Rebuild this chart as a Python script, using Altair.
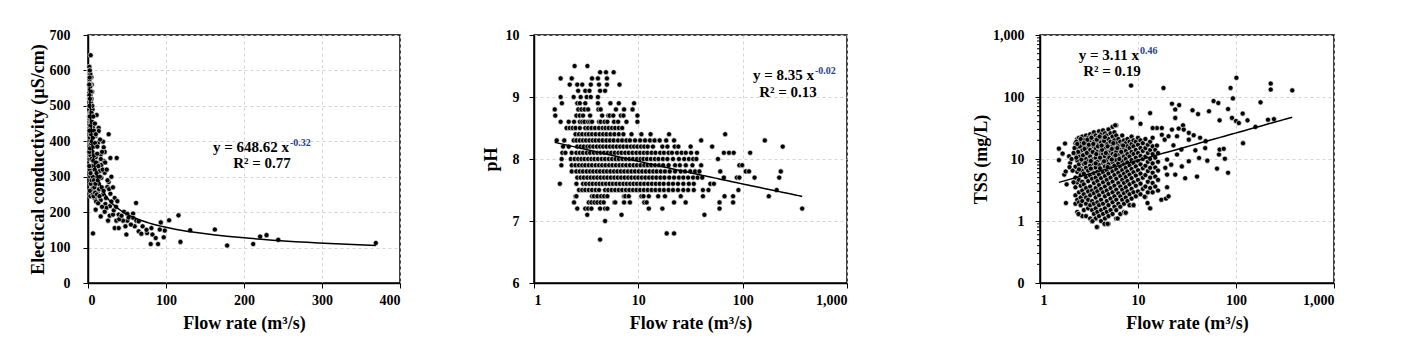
import altair as alt
import pandas as pd

FONT = "Liberation Serif"

# ---------------- Panel 1: Electrical conductivity vs flow ----------------
ec_points = [
    (3.4, 643), (2.1, 610), (4.3, 581), (1.7, 556), (3.4, 542), (2.1, 499), (3.4, 476), (1.8, 438),
    (11.1, 474), (4.3, 415), (6.4, 440), (9.4, 415), (13.7, 438), (13.7, 429), (26.5, 420), (6.4, 369),
    (12.8, 396), (19.3, 399), (20.1, 383), (21.4, 370), (16.3, 363), (9.8, 355), (12.0, 339), (17.1, 333),
    (20.5, 344), (21.4, 311), (28.7, 353), (36.8, 353), (7.7, 325), (15.0, 316), (4.3, 306), (10.7, 301),
    (17.1, 297), (26.5, 285), (24.8, 271), (13.7, 280), (6.8, 273), (12.8, 259), (19.3, 250), (28.7, 252),
    (3.0, 245), (8.6, 240), (16.3, 234), (22.2, 223), (34.2, 240), (37.6, 231), (28.2, 217), (23.5, 212),
    (9.8, 207), (16.3, 188), (21.4, 201), (27.8, 190), (32.1, 193), (39.4, 193), (46.2, 201), (50.5, 195),
    (57.8, 196), (61.6, 226), (57.8, 184), (62.0, 176), (65.0, 174), (50.5, 176), (44.9, 176), (36.4, 176),
    (25.7, 176), (34.2, 155), (39.4, 155), (49.2, 137), (59.9, 160), (65.0, 146), (68.4, 139), (75.7, 141),
    (81.3, 155), (82.6, 137), (86.8, 127), (80.4, 110), (89.8, 110), (93.3, 171), (97.1, 129), (98.4, 148),
    (92.0, 151), (104, 177), (116, 191), (118.5, 116), (131, 149), (162.6, 151), (178.4, 106), (211.8, 110),
    (220.7, 131), (228.9, 135), (243.9, 122), (369, 113), (6.4, 140),
    (1.6, 520), (1.7, 470), (1.8, 590), (1.9, 350), (2.0, 455), (2.0, 400), (2.1, 545), (2.2, 320),
    (2.2, 530), (2.3, 565), (2.4, 410), (2.4, 480), (2.5, 500), (2.6, 590), (2.6, 440), (2.7, 470),
    (2.8, 300), (2.8, 360), (2.9, 390), (3.0, 500), (3.0, 420), (3.1, 445), (3.2, 460), (3.3, 360),
    (3.4, 520), (3.5, 280), (3.6, 510), (3.7, 395), (3.8, 420), (3.9, 330), (4.0, 380), (4.0, 520),
    (4.1, 455), (4.2, 470), (4.4, 430), (4.5, 350), (4.6, 290), (4.8, 400), (4.9, 500), (5.0, 330),
    (5.2, 540), (5.3, 455), (5.5, 265), (5.6, 370), (5.8, 490), (6.0, 300), (6.2, 250), (6.3, 410),
    (1.6, 330), (1.7, 370), (1.9, 430), (2.3, 260), (2.5, 380), (3.2, 310), (3.6, 560), (4.7, 560),
    (1.6, 600), (1.7, 580), (1.9, 560), (2.0, 575), (2.2, 500), (2.4, 545), (2.5, 560), (2.7, 520),
    (2.9, 555), (3.0, 590), (3.1, 530), (3.3, 500), (3.5, 480), (3.7, 540), (3.9, 470), (4.1, 500),
    (4.4, 520), (4.6, 480), (5.0, 470), (5.4, 500),
    (1.6, 560), (1.65, 610), (1.75, 530), (1.85, 500), (1.95, 600), (2.05, 520), (2.15, 580),
    (2.25, 470), (2.35, 600), (2.45, 520),
    (6.7, 345), (6.8, 470), (7.1, 385), (7.2, 245), (7.5, 430), (7.6, 290), (8.0, 360), (8.2, 270),
    (8.5, 320), (8.8, 450), (9.0, 395), (9.2, 255), (9.6, 280), (10.0, 420), (10.2, 340), (10.5, 230),
    (11.0, 310), (11.5, 250), (11.8, 365), (12.0, 385), (12.5, 290), (13.0, 225), (13.3, 330), (14.2, 265),
    (14.8, 245), (15.2, 300), (15.5, 405), (16.4, 350), (17.6, 270), (18.0, 215), (18.0, 370), (18.8, 320),
    (20.0, 260), (22.0, 340), (23.0, 240), (24.0, 320), (25.0, 290), (27.0, 265), (30.0, 230), (30.0, 300),
    (32.0, 270), (33.0, 205), (36.0, 215), (40.0, 180), (43.0, 190), (48.0, 160), (52.0, 185), (55.0, 165),
    (70.0, 160), (75.0, 150),
]
ec_x_ticks = [0, 100, 200, 300, 400]
ec_y_ticks = [0, 100, 200, 300, 400, 500, 600, 700]

# ---------------- Panel 2: pH vs flow (pH recorded in 0.1 steps) ----------------
ph_levels = [9.5, 9.4, 9.3, 9.2, 9.1, 9.0, 8.9, 8.8, 8.7, 8.6, 8.5, 8.4, 8.3, 8.2, 8.1, 8.0,
             7.9, 7.8, 7.7, 7.6, 7.5, 7.4, 7.3, 7.2, 7.1, 7.0, 6.8, 6.7]
ph_row_flows = [
    [2.45, 3.25],
    [4.3, 4.9, 5.8],
    [1.8, 2.3, 3.6, 4.1, 5.0],
    [2.2, 2.6, 2.9, 3.5, 4.2, 5.0, 6.6],
    [2.65, 3.1, 3.4, 4.3, 4.8],
    [1.8, 2.4, 2.8, 3.2, 3.5, 4.1],
    [1.85, 2.6, 2.75, 3.1, 4.1, 5.4, 6.5, 9.1],
    [1.58, 2.66, 2.85, 3.05, 3.3, 4.15, 4.35, 6.1, 7.3, 8.8],
    [1.6, 2.55, 2.75, 2.95, 3.45, 4.5, 5.15, 5.3, 5.75, 6.8, 7.2, 9.8],
    [1.8, 2.15, 2.42, 2.75, 2.9, 3.05, 3.3, 3.45, 3.6, 4.2, 4.35, 4.75, 5.05, 5.85, 6.4, 7.7, 9.8],
    [2.05, 2.2, 2.35, 2.5, 2.75, 3.1, 3.3, 3.55, 3.85, 4.2, 4.55, 4.85, 5.2, 5.6, 6.0, 6.5, 7.0],
    [2.5, 2.7, 2.9, 3.15, 3.35, 3.6, 3.9, 4.25, 4.6, 4.95, 5.4, 5.9, 6.5, 7.2, 8.6, 10.7, 13.1, 19.7, 68],
    [1.65, 1.95, 2.4, 2.55, 2.75, 2.95, 3.15, 3.4, 3.65, 3.9, 4.2, 4.55, 4.95, 5.35, 5.8, 6.4, 7.0, 7.7,
     8.3, 9.3, 10.4, 11.6, 12.9, 14.3, 16.0, 18.5, 22.0, 40, 163],
    [1.9, 2.15, 2.6, 2.8, 3.0, 3.25, 3.45, 3.7, 4.0, 4.3, 4.6, 4.95, 5.35, 5.75, 6.2, 6.7, 7.2, 7.8,
     8.5, 9.1, 9.8, 10.6, 11.4, 12.3, 13.8, 17, 19, 22.3, 24.2, 31.7, 51, 242],
    [1.87, 2.0, 2.3, 2.55, 2.75, 2.95, 3.2, 3.45, 3.75, 4.05, 4.35, 4.7, 5.1, 5.5, 5.95, 6.45, 6.9, 7.5,
     8.1, 8.8, 9.6, 10.4, 11.3, 12.2, 13.4, 14.6, 16.2, 17.6, 19.5, 21.0, 23.5, 26.0, 28.5, 32.0, 36.5,
     66, 74, 82, 118],
    [1.84, 2.25, 2.45, 2.65, 2.85, 3.05, 3.3, 3.55, 3.8, 4.1, 4.45, 4.8, 5.2, 5.6, 6.05, 6.5, 7.05, 7.6,
     8.2, 8.9, 9.7, 10.5, 11.2, 12.1, 13.2, 14.4, 15.6, 17.2, 19.0, 21.5, 24.5, 27.5, 30.5, 33.5, 36.0, 58],
    [1.83, 2.3, 2.5, 2.7, 2.9, 3.1, 3.35, 3.6, 3.9, 4.2, 4.5, 4.85, 5.25, 5.65, 6.1, 6.6, 7.1, 7.65,
     8.3, 9.0, 9.7, 10.5, 11.4, 12.3, 13.3, 14.5, 15.8, 17.3, 19.5, 22.5, 25.0, 28.5, 33.0, 40, 93, 99],
    [2.3, 2.55, 2.75, 2.95, 3.2, 3.45, 3.7, 4.0, 4.3, 4.65, 5.0, 5.4, 5.85, 6.3, 6.8, 7.35, 7.95, 8.6,
     9.3, 10.1, 10.9, 11.8, 12.8, 13.9, 15.0, 16.4, 18.0, 20.0, 22.5, 25.5, 28.0, 31.5, 35.0, 38.5,
     61, 107, 115, 232],
    [2.6, 2.8, 3.0, 3.25, 3.5, 3.75, 4.05, 4.35, 4.7, 5.05, 5.45, 5.9, 6.35, 6.85, 7.4, 8.0, 8.6, 9.3,
     10.0, 10.8, 11.7, 12.7, 13.7, 14.9, 16.3, 17.8, 19.8, 22.0, 24.5, 27.0, 30.0, 33.5, 37.0, 41.0,
     66, 88, 93, 130, 224],
    [1.77, 2.55, 2.95, 3.15, 3.4, 3.65, 3.95, 4.25, 4.55, 4.9, 5.3, 5.7, 6.15, 6.65, 7.2, 7.75, 8.35,
     9.0, 9.7, 10.5, 11.4, 12.4, 13.5, 14.7, 16.0, 17.5, 19.5, 21.5, 24.0, 27.0, 30.5, 34.0, 49, 53],
    [2.7, 2.9, 3.1, 3.35, 3.6, 3.9, 4.2, 4.8, 5.15, 5.55, 6.0, 6.5, 7.0, 7.6, 8.2, 8.9, 9.6, 10.4,
     11.3, 12.3, 13.4, 14.6, 16.0, 17.6, 19.5, 21.5, 24.0, 27.0, 30.0, 34.0, 41.6, 47, 91, 212],
    [2.5, 2.55, 3.6, 3.75, 4.05, 4.4, 4.7, 5.05, 7.3, 7.5, 8.1, 10.7, 11.2, 12.6, 15.5, 18.0, 25.5,
     41.6, 67, 81, 178],
    [2.42, 3.35, 3.55, 3.8, 4.05, 4.35, 4.65, 5.9, 6.0, 7.3, 8.3, 11.4, 12.0, 22.0, 28.4, 60, 81],
    [2.6, 3.1, 3.3, 3.55, 4.3, 4.8, 5.05, 12.6, 17.0, 60, 372],
    [3.24, 6.9, 43],
    [4.8],
    [18.7, 22],
    [4.3],
]
log_ticks = [1, 10, 100, 1000]
ph_y_ticks = [6, 7, 8, 9, 10]

# ---------------- Panel 3: TSS vs flow ----------------
tss_col_flow = [2.3, 2.4, 2.5, 2.6, 2.7, 2.8, 2.95, 3.1, 3.25, 3.4, 3.55, 3.7, 3.85, 4.0, 4.2, 4.4,
                4.6, 4.8, 5.0, 5.25, 5.5, 5.75, 6.0, 6.3, 6.6, 6.9, 7.2, 7.5, 7.8, 8.2, 8.6, 9.0,
                9.5, 10.0, 10.6, 11.2, 11.9, 12.6, 13.3, 14.1, 15.0, 16.0]
tss_col_values = [
    [1.9, 2.6, 3.5, 5.0, 7.5, 12, 18],
    [1.4, 2.2, 4.2, 6.2, 9.5, 15, 21],
    [1.3, 2.0, 2.9, 4.6, 8.2, 11, 17, 22],
    [1.8, 2.4, 3.7, 5.5, 7.0, 13, 19],
    [1.2, 2.1, 3.1, 4.3, 6.4, 9.0, 14, 23],
    [1.5, 2.7, 3.9, 5.8, 8.3, 11.5, 16, 20],
    [1.2, 1.9, 2.4, 3.4, 5.1, 7.2, 10, 13.5, 18, 24],
    [1.6, 2.2, 3.0, 4.4, 6.5, 9.2, 12, 15.5, 22],
    [1.1, 1.8, 2.6, 3.6, 5.4, 7.8, 11, 14, 19, 25],
    [0.99, 1.5, 2.1, 3.1, 4.8, 6.9, 9.8, 17, 23],
    [1.3, 1.9, 2.8, 4.1, 5.9, 8.5, 12.5, 16, 21, 27],
    [1.1, 1.6, 2.4, 3.4, 5.0, 7.3, 10.5, 14.5, 19, 24],
    [0.8, 1.4, 2.0, 3.0, 4.4, 6.2, 9.0, 13, 17.5, 22],
    [1.2, 1.8, 2.6, 3.8, 5.6, 8.0, 11.5, 15.5, 20, 28],
    [1.0, 1.5, 2.2, 3.3, 4.9, 6.9, 10, 13.5, 18.5, 25],
    [1.3, 1.9, 2.9, 4.2, 6.1, 8.7, 12, 16.5, 22, 29],
    [0.9, 1.1, 1.6, 2.5, 3.6, 5.3, 7.6, 11, 14.5, 20, 26],
    [1.4, 2.1, 3.1, 4.6, 6.6, 9.5, 13, 17.5, 24],
    [0.9, 1.2, 1.8, 2.7, 4.0, 5.8, 8.2, 11.5, 15.5, 21, 30],
    [1.5, 2.3, 3.4, 5.0, 7.2, 10, 13.5, 19, 26],
    [1.3, 2.0, 2.9, 4.3, 6.3, 8.9, 12, 16.5, 23, 33],
    [1.7, 2.5, 3.7, 5.5, 7.8, 11, 14.5, 20, 27],
    [1.1, 1.5, 2.2, 3.2, 4.8, 6.8, 9.6, 13, 18, 24, 35],
    [1.9, 2.8, 4.1, 6.0, 8.5, 11.5, 16, 21],
    [1.3, 1.7, 2.5, 3.6, 5.3, 7.5, 10.3, 14, 19],
    [2.2, 3.2, 4.6, 6.6, 9.2, 12.5, 17, 24],
    [1.4, 1.9, 2.8, 4.1, 5.8, 8.2, 11, 15, 20],
    [1.36, 2.4, 3.5, 5.1, 7.2, 10, 13.5, 18],
    [2.1, 3.0, 4.4, 6.3, 8.8, 12, 16, 21],
    [1.8, 2.7, 3.9, 5.6, 7.9, 11, 15, 19],
    [2.3, 3.3, 4.9, 6.9, 9.6, 13, 17.5, 23],
    [1.8, 2.9, 4.2, 6.1, 8.6, 12, 16, 20],
    [2.5, 3.7, 5.4, 7.6, 10.5, 14, 19],
    [3.0, 4.6, 6.6, 9.3, 12.5, 17, 22],
    [2.7, 4.0, 5.8, 8.2, 11.2, 15, 20],
    [3.3, 5.0, 7.1, 10, 13.5, 18],
    [2.45, 3.6, 5.5, 7.8, 11, 15, 21],
    [2.9, 4.3, 6.4, 9.0, 12.5, 17],
    [1.6, 3.4, 5.0, 7.2, 10, 14, 19],
    [2.9, 4.1, 6.0, 8.5, 12, 16, 22],
    [3.6, 5.2, 7.3, 10.5, 14],
    [3.1, 4.6, 6.5, 9.0, 12.5],
]
tss_extra_points = [
    (1.56, 14.7), (1.56, 9.6), (1.7, 12.2), (1.8, 17.8), (1.77, 5.6), (1.83, 6.3), (1.84, 1.95),
    (1.87, 3.9), (1.98, 11.1), (2.03, 8.6), (2.1, 10), (2.15, 6.5), (2.2, 4.2), (2.25, 15), (2.0, 7.4),
    (2.47, 1.3), (3.8, 0.8), (3.43, 0.99), (4.55, 0.9), (4.9, 0.9), (6.2, 1.1), (7.5, 1.36), (9.0, 1.8),
    (8.5, 153), (8.7, 46), (18.2, 140), (10.6, 37), (13.3, 55), (5.85, 35), (13.3, 1.6), (12.5, 1.95),
    (11.7, 2.45), (17.3, 2.2), (19.3, 2.3), (20.5, 2.5), (19.8, 3.5), (22.2, 78), (24, 63), (24, 46),
    (26.3, 74), (28.8, 35), (30.3, 4.9), (40, 5.2), (36, 61), (41, 53), (53, 59), (59, 86), (66, 80),
    (68, 42), (83, 64), (88, 140), (93, 95), (101, 204), (91, 46), (100, 41), (107, 38), (117, 54),
    (118, 18), (131, 42), (158, 33), (178, 82), (212, 43), (226, 165), (226, 132), (244, 44), (375, 128),
    (48.5, 15), (49, 19.4), (51, 9.4), (64, 7.0), (83, 6.0), (67, 11.8), (68, 14.2), (77, 10.1),
    (75, 14.6), (42, 10.4), (38.5, 13.8), (33, 9.2), (28, 7.6), (25, 11.8), (33, 20.5), (33, 26.4),
    (37, 24.2), (43, 22), (27.7, 14.2), (23, 16.6), (18.7, 20.5), (17.5, 24.6), (17.5, 31.6),
    (15.6, 31.6), (14.1, 31.6), (15.6, 16.5), (21.8, 8.1), (19, 7.2), (19.8, 5.6), (24, 5.6),
    (19.8, 9.8), (20.5, 23.3), (22.2, 29.8), (26, 31), (29.3, 29.8), (25, 23.3),
    (2.35, 10.5), (2.45, 13), (2.55, 16), (2.65, 9.8), (2.75, 11.5), (2.85, 14.5), (3.0, 12.5),
    (3.15, 17), (3.3, 9.3), (3.45, 13), (3.6, 19), (3.75, 12), (3.9, 16), (4.1, 10.5), (4.3, 14),
    (4.5, 19.5), (4.7, 12.5), (4.9, 16), (5.1, 10.5), (5.4, 14.5), (5.6, 18), (5.9, 11.5), (6.15, 15),
    (6.45, 10), (6.75, 13), (7.05, 16.5), (2.5, 6.8), (2.9, 8.6), (3.3, 7.0), (3.7, 8.5), (4.1, 7.1),
    (4.5, 9.2), (4.9, 7.4), (5.4, 9.8),
    (2.35, 19), (2.6, 21), (2.8, 18), (3.05, 20.5), (3.35, 22), (3.5, 17.5), (3.8, 20.5), (4.05, 23),
    (4.25, 16.5), (4.6, 22.5), (2.2, 12.5), (2.4, 17.5),
]
tss_y_ticks = [0.1, 1, 10, 100, 1000]
tss_minor_ticks = [0.2, 0.3, 0.4, 0.5, 0.6, 0.7, 0.8, 0.9, 2, 3, 4, 5, 6, 7, 8, 9,
                   20, 30, 40, 50, 60, 70, 80, 90, 200, 300, 400, 500, 600, 700, 800, 900]

# ---------------- Annotation texts ----------------
eq_main = ["y = 648.62  x", "y = 8.35 x", "y = 3.11 x"]
eq_power = ["-0.32", "-0.02", "0.46"]
eq_r2 = ["R² = 0.77", "R² = 0.13", "R² = 0.19"]
x_title = "Flow rate (m³/s)"
y_titles = ["Electical conductivity (µS/cm)", "pH", "TSS (mg/L)"]

# ---------------- Tables ----------------
ec_df = pd.DataFrame(ec_points, columns=["flow", "value"])
ph_df = pd.DataFrame(
    [(f, lvl) for lvl, flows in zip(ph_levels, ph_row_flows) for f in flows],
    columns=["flow", "value"],
)
tss_rows = [(f, v) for f, vals in zip(tss_col_flow, tss_col_values) for v in vals] + tss_extra_points
tss_df = pd.DataFrame(tss_rows, columns=["flow", "value"])
minor_df = pd.DataFrame({"value": tss_minor_ticks})

W1, W2, W3, H = 312, 313, 294, 248

point_mark = dict(shape="circle", filled=True, fill="black", stroke="white",
                  strokeWidth=0.6, size=26, opacity=1)


def annotations(i, x_main, y_main, x_r2, y_r2, fs=15):
    main = alt.Chart(pd.DataFrame({"t": [eq_main[i]]})).mark_text(
        align="right", baseline="alphabetic", font=FONT, fontWeight="bold", fontSize=fs, color="black"
    ).encode(text="t:N", x=alt.value(x_main), y=alt.value(y_main))
    power = alt.Chart(pd.DataFrame({"t": [eq_power[i]]})).mark_text(
        align="left", baseline="alphabetic", font=FONT, fontWeight="bold", fontSize=10, color="#1f3f8f"
    ).encode(text="t:N", x=alt.value(x_main + 1), y=alt.value(y_main - 6))
    r2 = alt.Chart(pd.DataFrame({"t": [eq_r2[i]]})).mark_text(
        align="center", baseline="alphabetic", font=FONT, fontWeight="bold", fontSize=fs, color="black"
    ).encode(text="t:N", x=alt.value(x_r2), y=alt.value(y_r2))
    return [main, power, r2]


# Panel 1
x1 = alt.X("flow:Q", scale=alt.Scale(domain=[0, 400], nice=False),
           axis=alt.Axis(values=ec_x_ticks, title=x_title))
y1 = alt.Y("value:Q", scale=alt.Scale(domain=[0, 700], nice=False),
           axis=alt.Axis(values=ec_y_ticks, title=y_titles[0], labelPadding=13, titlePadding=2))
p1_pts = alt.Chart(ec_df).mark_point(**point_mark).encode(x=x1, y=y1)
p1_fit = alt.Chart(ec_df).transform_regression("flow", "value", method="pow").mark_line(
    color="black", strokeWidth=1.5).encode(x=x1, y=y1)
p1 = alt.layer(p1_pts, p1_fit, *annotations(0, 201, 117, 174, 133)).properties(width=W1, height=H)

# Panel 2
x2 = alt.X("flow:Q", scale=alt.Scale(type="log", domain=[1, 1000], nice=False),
           axis=alt.Axis(values=log_ticks, format=",", title=x_title))
y2 = alt.Y("value:Q", scale=alt.Scale(domain=[6, 10], nice=False, zero=False),
           axis=alt.Axis(values=ph_y_ticks, title=y_titles[1], labelPadding=10, titlePadding=5))
p2_pts = alt.Chart(ph_df).mark_point(**point_mark).encode(x=x2, y=y2)
p2_fit = alt.Chart(ph_df).transform_regression("flow", "value", method="pow").mark_line(
    color="black", strokeWidth=1.5).encode(x=x2, y=y2)
p2 = alt.layer(p2_pts, p2_fit, *annotations(1, 280, 45, 254, 62)).properties(width=W2, height=H)

# Panel 3
x3 = alt.X("flow:Q", scale=alt.Scale(type="log", domain=[1, 1000], nice=False),
           axis=alt.Axis(values=log_ticks, format=",", title=x_title))
y3 = alt.Y("value:Q", scale=alt.Scale(type="log", domain=[0.1, 1000], nice=False),
           axis=alt.Axis(values=tss_y_ticks, format=",.0f", title=y_titles[2], labelPadding=11, titlePadding=2))
p3_minor = alt.Chart(minor_df).mark_rule(color="black", strokeWidth=1).encode(
    y=alt.Y("value:Q", scale=alt.Scale(type="log", domain=[0.1, 1000], nice=False)),
    x=alt.value(-3), x2=alt.value(0))
p3_pts = alt.Chart(tss_df).mark_point(**point_mark).encode(x=x3, y=y3)
p3_fit = alt.Chart(tss_df).transform_regression("flow", "value", method="pow").mark_line(
    color="black", strokeWidth=1.5).encode(x=x3, y=y3)
p3 = alt.layer(p3_pts, p3_fit, p3_minor, *annotations(2, 99, 25, 72, 41)).properties(width=W3, height=H)

chart = alt.hconcat(alt.hconcat(p1, p2, spacing=79), p3, spacing=122).properties(
    padding={"left": 28, "top": 27, "right": 5, "bottom": 5}
).configure(background="white").configure_view(
    stroke="black", strokeWidth=1.5
).configure_axis(
    labelFont=FONT, labelFontWeight="bold", labelFontSize=14, labelColor="black",
    titleFont=FONT, titleFontWeight="bold", titleFontSize=18, titleColor="black",
    tickColor="black", tickSize=5, tickWidth=1, domainColor="black", domainWidth=1.5,
    gridColor="#d4d4d4", gridDash=[3, 3], gridWidth=1,
).configure_axisX(labelPadding=5, titlePadding=7).configure_axisY(labelAngle=0)

chart.save("out.html", embed_options={"renderer": "svg", "actions": False})
